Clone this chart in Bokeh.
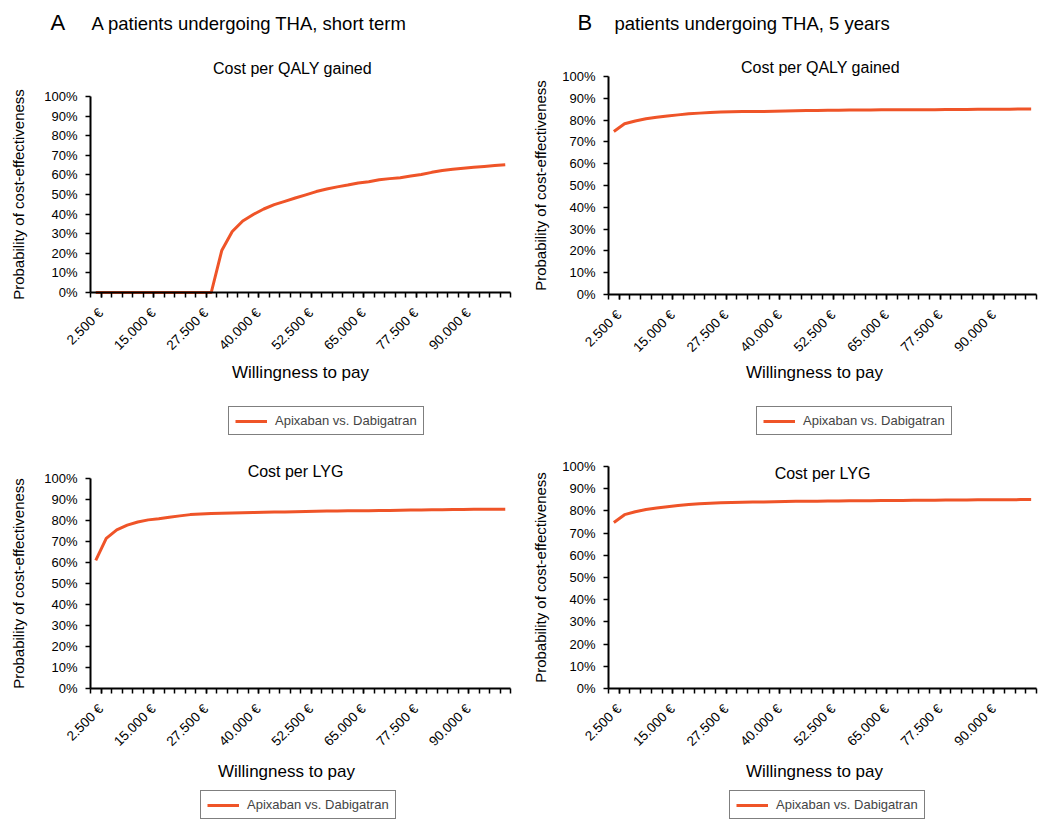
import math
from bokeh.plotting import figure
from bokeh.models import Range1d, FixedTicker, NumeralTickFormatter, Label, Legend, LegendItem
from bokeh.layouts import column, row
from bokeh.embed import file_html
from bokeh.resources import INLINE

FONT = "Liberation Sans"
LINE_COLOR = "#EF5428"

# Willingness to pay (EUR), one category every 2.500 EUR
wtp = [2500, 5000, 7500, 10000, 12500, 15000, 17500, 20000, 22500, 25000,
       27500, 30000, 32500, 35000, 37500, 40000, 42500, 45000, 47500, 50000,
       52500, 55000, 57500, 60000, 62500, 65000, 67500, 70000, 72500, 75000,
       77500, 80000, 82500, 85000, 87500, 90000, 92500, 95000, 97500, 100000]
label_every = 5

# Probability of cost-effectiveness (%)
qaly_short = [0, 0, 0, 0, 0, 0, 0, 0, 0, 0,
              0, 0, 21.4, 31.1, 36.5, 39.8, 42.6, 44.8, 46.5, 48.2,
              49.8, 51.5, 52.8, 53.9, 54.8, 55.9, 56.5, 57.5, 58.1, 58.6,
              59.4, 60.2, 61.3, 62.2, 62.9, 63.4, 63.9, 64.3, 64.8, 65.2]
lyg_short = [61.0, 71.5, 75.5, 77.8, 79.3, 80.3, 80.8, 81.5, 82.2, 82.8,
             83.1, 83.3, 83.5, 83.6, 83.7, 83.8, 83.9, 84.0, 84.1, 84.2,
             84.3, 84.4, 84.5, 84.5, 84.6, 84.7, 84.7, 84.8, 84.8, 84.9,
             85.0, 85.0, 85.1, 85.1, 85.2, 85.2, 85.3, 85.3, 85.4, 85.4]
qaly_5y = [74.8, 78.3, 79.6, 80.6, 81.3, 81.9, 82.4, 82.9, 83.2, 83.5,
           83.7, 83.8, 83.9, 84.0, 84.0, 84.1, 84.2, 84.3, 84.4, 84.4,
           84.5, 84.5, 84.6, 84.6, 84.6, 84.7, 84.7, 84.7, 84.8, 84.8,
           84.8, 84.9, 84.9, 84.9, 85.0, 85.0, 85.0, 85.0, 85.1, 85.1]
lyg_5y = [74.8, 78.3, 79.6, 80.6, 81.3, 81.9, 82.4, 82.9, 83.2, 83.5,
          83.7, 83.8, 83.9, 84.0, 84.0, 84.1, 84.2, 84.3, 84.4, 84.4,
          84.5, 84.5, 84.6, 84.6, 84.6, 84.7, 84.7, 84.7, 84.8, 84.8,
          84.8, 84.9, 84.9, 84.9, 85.0, 85.0, 85.0, 85.0, 85.1, 85.1]

series_name = "Apixaban vs. Dabigatran"
y_title = "Probability of cost-effectiveness"
x_title = "Willingness to pay"


def eur(v):
    return f"{v:,}".replace(",", ".") + " €"


def panel(values, title, box, plot_area, texts, legend_pos):
    """box: figure (x0, y0, w, h) in page px; plot_area: (left, top, right, bottom)
    page px of the 0..n x 0..100% data area."""
    x0, y0, w, h = box
    al, at, ar, ab = plot_area
    n = len(wtp)
    sx = (ar - al) / n          # px per category
    sy = (ab - at)              # px per unit probability
    p = figure(width=w, height=h, min_border=0,
               x_range=Range1d(-(al - x0) / sx, (x0 + w - al) / sx),
               y_range=Range1d(-(y0 + h - ab) / sy, (ab - y0) / sy),
               output_backend="svg", toolbar_location=None)
    p.outline_line_color = None
    p.xgrid.visible = False
    p.ygrid.visible = False
    p.background_fill_color = "white"
    p.border_fill_color = "white"

    xs = [i + 0.5 for i in range(n)]
    ys = [v / 100 for v in values]
    r = p.line(xs, ys, line_color=LINE_COLOR, line_width=3, line_join="round")

    # y axis
    ya = p.yaxis[0]
    ya.fixed_location = 0
    ya.bounds = (0, 1)
    ya.ticker = FixedTicker(ticks=[i / 10 for i in range(11)], minor_ticks=[])
    ya.formatter = NumeralTickFormatter(format="0%")
    ya.axis_line_width = 2
    ya.axis_line_color = "black"
    ya.major_tick_out = 5
    ya.major_tick_in = 0
    ya.major_tick_line_width = 1.5
    ya.minor_tick_out = 0
    ya.minor_tick_in = 0
    ya.major_label_text_font = FONT
    ya.major_label_text_font_size = "13px"
    ya.major_label_text_color = "black"
    ya.major_label_standoff = 8

    # x axis: tick marks between categories, labels every 5th category
    xa = p.xaxis[0]
    xa.fixed_location = 0
    xa.bounds = (0, n)
    lab_idx = list(range(0, n, label_every))
    xa.ticker = FixedTicker(ticks=[i + 1 for i in lab_idx], minor_ticks=list(range(n + 1)))
    xa.major_label_overrides = {i + 1: eur(wtp[i]) for i in lab_idx}
    xa.major_label_orientation = math.pi / 4
    xa.axis_line_width = 2
    xa.axis_line_color = "black"
    xa.major_tick_out = 5
    xa.major_tick_in = 0
    xa.major_tick_line_width = 1.5
    xa.minor_tick_out = 5
    xa.minor_tick_in = 0
    xa.minor_tick_line_width = 1.5
    xa.minor_tick_line_color = "black"
    xa.major_label_text_font = FONT
    xa.major_label_text_font_size = "13.5px"
    xa.major_label_text_color = "black"
    xa.major_label_standoff = 13

    def lab(text, X, Y, size, align="left", angle=0):
        p.add_layout(Label(x=X - x0, y=(y0 + h) - Y, x_units="screen", y_units="screen",
                           text=text, text_font=FONT, text_font_size=size, angle=angle,
                           text_align=align, text_baseline="middle", text_color="black"))

    for t in texts:
        kind, X, Y = t[0], t[1], t[2]
        if kind == "title":
            lab(title, X, Y, "16px", "center")
        elif kind == "ylabel":
            lab(y_title, X, Y, "15px", "center", math.pi / 2)
        elif kind == "xlabel":
            lab(x_title, X, Y, "17px", "center")
        else:
            lab(kind, X, Y, t[3])

    lx, lb = legend_pos
    leg = Legend(items=[LegendItem(label=series_name, renderers=[r])],
                 location=(lx - x0, (y0 + h) - lb), orientation="horizontal",
                 border_line_color="black", border_line_width=1,
                 background_fill_color="white", background_fill_alpha=1,
                 padding=6, margin=0, spacing=0, glyph_width=32, glyph_height=12,
                 label_standoff=8, label_text_font=FONT, label_text_font_size="13px",
                 label_height=12)
    p.add_layout(leg)
    return p


# page coordinates
tl = panel(qaly_short, "Cost per QALY gained",
           box=(0, 0, 520, 442), plot_area=(90, 96, 510, 292),
           texts=[("A", 50, 22, "22px"),
                  ("A patients undergoing THA, short term", 91, 23, "18.5px"),
                  ("title", 292, 68), ("ylabel", 18, 194), ("xlabel", 300, 372)],
           legend_pos=(228, 435))
tr = panel(qaly_5y, "Cost per QALY gained",
           box=(520, 0, 518, 442), plot_area=(608, 76, 1036, 294),
           texts=[("B", 577, 22, "22px"),
                  ("patients undergoing THA, 5 years", 614, 23, "18.5px"),
                  ("title", 820, 67), ("ylabel", 540, 185), ("xlabel", 814, 372)],
           legend_pos=(756, 435))
bl = panel(lyg_short, "Cost per LYG",
           box=(0, 442, 520, 378), plot_area=(90, 478, 510, 688),
           texts=[("title", 295, 471), ("ylabel", 18, 583), ("xlabel", 286, 771)],
           legend_pos=(200, 819))
br = panel(lyg_5y, "Cost per LYG",
           box=(520, 442, 518, 378), plot_area=(608, 466, 1036, 688),
           texts=[("title", 822, 473), ("ylabel", 540, 577), ("xlabel", 814, 771)],
           legend_pos=(729, 819))

layout = column(row(tl, tr), row(bl, br))
open("out.html", "w").write(file_html(layout, INLINE))
